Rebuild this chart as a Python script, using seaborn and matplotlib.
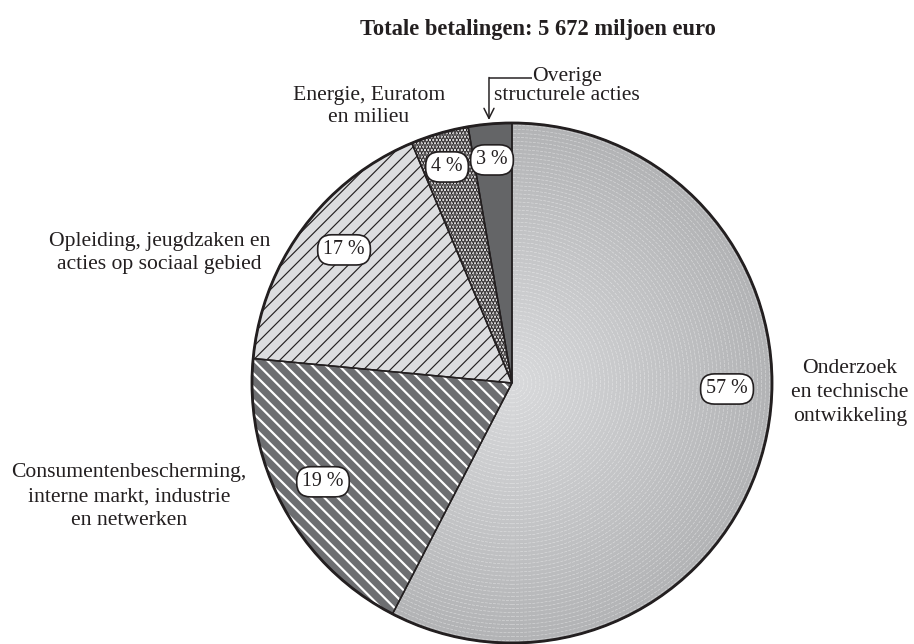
import numpy as np
import matplotlib
matplotlib.use("Agg")
import matplotlib.pyplot as plt
import seaborn as sns
from matplotlib.patches import Circle
from matplotlib.colors import LinearSegmentedColormap

# ---- data ----
categories = [
    "Onderzoek\nen technische\nontwikkeling",
    "Consumentenbescherming,\ninterne markt, industrie\nen netwerken",
    "Opleiding, jeugdzaken en\nacties op sociaal gebied",
    "Energie, Euratom\nen milieu",
    "Overige\nstructurele acties",
]
shares = [57.6, 18.9, 17.2, 3.6, 2.7]
pct_labels = ["57 %", "19 %", "17 %", "4 %", "3 %"]
title = "Totale betalingen: 5 672 miljoen euro"

# ---- style ----
sns.set_theme(style="white")
plt.rcParams['font.family'] = ['Liberation Serif', 'DejaVu Serif']
plt.rcParams['hatch.linewidth'] = 1.0
INK = '#231f20'

DPI = 120
fig = plt.figure(figsize=(914 / DPI, 644 / DPI), dpi=DPI)
ax = fig.add_axes([0, 0, 1, 1])

face = ['#c6c7c9', '#6d6e71', '#dcdddf', 'white', '#646567']
hatches = [None, '\\\\\\', '///', '......', None]
hatch_cols = [None, 'white', INK, INK, None]
hatch_lw = [None, 1.3, 0.7, 1.8, None]

wedges, _ = ax.pie(shares, startangle=90, counterclock=False, colors=face,
                   wedgeprops=dict(linewidth=0), radius=1)
for w, h, hc, hl in zip(wedges, hatches, hatch_cols, hatch_lw):
    if h:
        w.set_hatch(h)
        w.set_edgecolor(hc)
        w.set_linewidth(0)
        if hasattr(w, 'set_hatch_linewidth'):
            w.set_hatch_linewidth(hl)

# radial gradient + fine concentric rings in the largest wedge
n = 600
xs = np.linspace(-1, 1, n)
X, Y = np.meshgrid(xs, xs)
R = np.hypot(X, Y)
cmap = LinearSegmentedColormap.from_list('g', ['#d9dadc', '#b2b3b5'])
im = ax.imshow(R, extent=(-1, 1, -1, 1), origin='lower', cmap=cmap, vmin=0, vmax=1,
               zorder=1.5, interpolation='bilinear')
im.set_clip_path(wedges[0])
for r in np.arange(0.03, 1.0, 0.0155):
    c = Circle((0, 0), r, fill=False, ec='white', lw=0.35, alpha=0.5,
               ls=(0, (5, 2)), zorder=1.6)
    ax.add_patch(c)
    c.set_clip_path(wedges[0])

# outlines
ax.pie(shares, startangle=90, counterclock=False, radius=1,
       wedgeprops=dict(fill=False, edgecolor=INK, linewidth=0.9, zorder=3))
ax.add_patch(Circle((0, 0), 1, fill=False, ec=INK, lw=1.7, zorder=3.5))

ax.set_xlim(-512 / 260, 402 / 260)
ax.set_ylim(-261 / 260, 383 / 260)
ax.set_aspect('auto')
ax.axis('off')

# percentage labels
pct_pos = [(0.827, -0.023), (-0.727, -0.380), (-0.646, 0.512), (-0.250, 0.831), (-0.077, 0.858)]
for (x, y), t in zip(pct_pos, pct_labels):
    ax.text(x, y, t, ha='center', va='center', fontsize=12, color=INK, zorder=10,
            bbox=dict(boxstyle='round,pad=0.28,rounding_size=0.7', fc='white', ec=INK, lw=1.0))

# category labels
cat_pos = [(1.30, -0.035), (-1.473, -0.438), (-1.355, 0.500), (-0.55, 1.062), (0.212, 1.142)]
cat_ls = [1.35, 1.35, 1.3, 1.2, 1.05]
for (x, y), t, ls in zip(cat_pos, categories, cat_ls):
    ax.text(x, y, t, ha='center', va='center', fontsize=13, color=INK,
            linespacing=ls, multialignment='center')

# leader for "Overige structurele acties"
ax.plot([0.077, -0.0885], [1.173, 1.173], color=INK, lw=0.9, solid_capstyle='butt')
ax.annotate('', xy=(-0.0885, 1.0115), xytext=(-0.0885, 1.175),
            arrowprops=dict(arrowstyle='->,head_length=0.5,head_width=0.25', color=INK, lw=0.9,
                            shrinkA=0, shrinkB=0))

ax.text(0.1, 1.36, title, ha='center', va='center', fontsize=13.5, fontweight='bold', color=INK)

fig.savefig('out.png', dpi=DPI)
